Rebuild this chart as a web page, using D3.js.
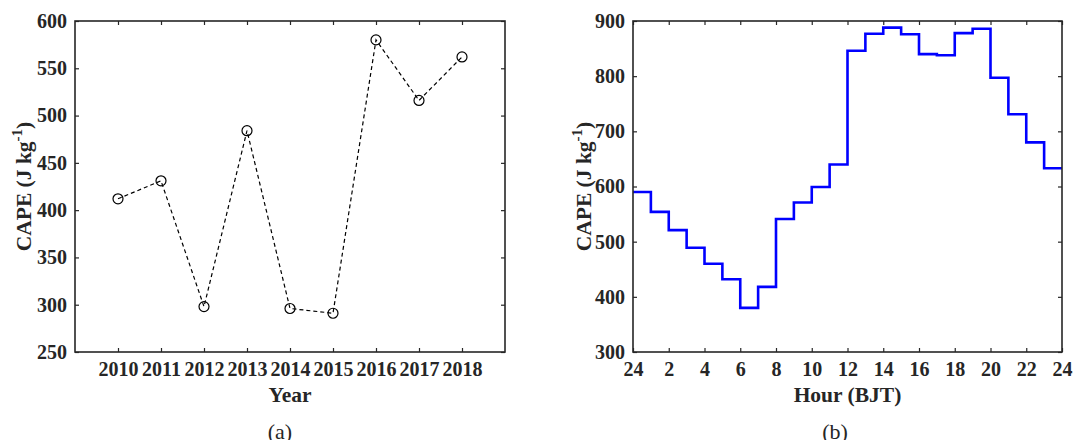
<!DOCTYPE html>
<html>
<head>
<meta charset="utf-8">
<script src="https://cdn.jsdelivr.net/npm/d3@7"></script>
<style>
  body { margin: 0; background: #fff; }
  text { font-family: "Liberation Serif", "Times New Roman", serif; fill: #262626; }
</style>
</head>
<body>
<div id="chart"></div>
<script>
// panel (a): yearly mean CAPE
var years = [2010, 2011, 2012, 2013, 2014, 2015, 2016, 2017, 2018];
var yearCape = [412, 431, 298, 484, 296, 291, 580, 516, 562];
var yearTicks = years;
var capeTicksA = [250, 300, 350, 400, 450, 500, 550, 600];

// panel (b): diurnal CAPE by hour (stairs)
var hours = [0, 1, 2, 3, 4, 5, 6, 7, 8, 9, 10, 11, 12, 13, 14, 15, 16, 17, 18, 19, 20, 21, 22, 23];
var hourCape = [590, 554, 521, 489, 460, 432, 380, 418, 541, 571, 599, 640,
  846, 877, 888, 876, 840, 838, 878, 886, 797, 731, 680, 633];
var hourTicks = [0, 2, 4, 6, 8, 10, 12, 14, 16, 18, 20, 22, 24];
var hourTickLabels = ["24", "2", "4", "6", "8", "10", "12", "14", "16", "18", "20", "22", "24"];
var capeTicksB = [300, 400, 500, 600, 700, 800, 900];

var svgWidth = 1073;
var svgHeight = 440;
var plotTop = 21, plotBottom = 352;
var tickLen = 4;
var ink = "#262626";

var svg = d3.select("#chart")
  .append("svg")
  .attr("width", svgWidth)
  .attr("height", svgHeight);

// draws a MATLAB-like box axis with inward ticks on all four sides
function drawFrame(x, y, xTicks, xLabels, yTicks) {
  var x0 = x.range()[0], x1 = x.range()[1];
  var g = svg.append("g");

  var bottomAxis = d3.axisBottom(x).tickValues(xTicks).tickSizeInner(-tickLen).tickSizeOuter(0)
    .tickPadding(10).tickFormat((d, i) => xLabels[i]);
  var topAxis = d3.axisTop(x).tickValues(xTicks).tickSizeInner(-tickLen).tickSizeOuter(0).tickFormat("");
  var leftAxis = d3.axisLeft(y).tickValues(yTicks).tickSizeInner(-tickLen).tickSizeOuter(0).tickPadding(8);
  var rightAxis = d3.axisRight(y).tickValues(yTicks).tickSizeInner(-tickLen).tickSizeOuter(0).tickFormat("");

  [[bottomAxis, `translate(0,${plotBottom})`], [topAxis, `translate(0,${plotTop})`],
   [leftAxis, `translate(${x0},0)`], [rightAxis, `translate(${x1},0)`]].forEach(function(a) {
    var ax = g.append("g").attr("transform", a[1]).call(a[0]);
    ax.select(".domain").remove();
    ax.selectAll("line").attr("stroke", ink).attr("stroke-width", 1.2);
    ax.selectAll("text")
      .attr("font-weight", "bold")
      .attr("font-size", 20)
      .attr("fill", ink);
  });

  g.append("rect")
    .attr("x", x0).attr("y", plotTop)
    .attr("width", x1 - x0).attr("height", plotBottom - plotTop)
    .attr("fill", "none").attr("stroke", ink).attr("stroke-width", 1.6);
  return g;
}

function yLabel(xPos) {
  var t = svg.append("text")
    .attr("transform", `translate(${xPos},${(plotTop + plotBottom) / 2}) rotate(-90)`)
    .attr("text-anchor", "middle")
    .attr("font-weight", "bold")
    .attr("font-size", 21.5);
  t.append("tspan").text("CAPE (J kg");
  t.append("tspan").attr("font-size", 15).attr("dy", -9).text("-1");
  t.append("tspan").attr("dy", 9).text(")");
}

// ---- panel (a)
var xA = d3.scaleLinear().domain([2009, 2019]).range([75, 505]);
var yA = d3.scaleLinear().domain([250, 600]).range([plotBottom, plotTop]);

var lineA = d3.line().x(d => xA(d[0])).y(d => yA(d[1]));
var ptsA = years.map((yr, i) => [yr, yearCape[i]]);

svg.append("path")
  .datum(ptsA)
  .attr("d", lineA)
  .attr("fill", "none")
  .attr("stroke", "#000")
  .attr("stroke-width", 1.2)
  .attr("stroke-dasharray", "4,3");

svg.selectAll(".yearDot")
  .data(ptsA)
  .enter()
  .append("circle")
  .attr("cx", d => xA(d[0]))
  .attr("cy", d => yA(d[1]))
  .attr("r", 5)
  .attr("fill", "none")
  .attr("stroke", "#000")
  .attr("stroke-width", 1.2);

drawFrame(xA, yA, yearTicks, yearTicks.map(String), capeTicksA);
yLabel(31);

svg.append("text")
  .attr("x", (75 + 505) / 2).attr("y", 402)
  .attr("text-anchor", "middle").attr("font-weight", "bold").attr("font-size", 21.5)
  .text("Year");

svg.append("text")
  .attr("x", 280).attr("y", 439)
  .attr("text-anchor", "middle").attr("font-size", 22)
  .attr("fill", "#000")
  .text("(a)");

// ---- panel (b)
var xB = d3.scaleLinear().domain([0, 24]).range([633, 1062]);
var yB = d3.scaleLinear().domain([300, 900]).range([plotBottom, plotTop]);

var ptsB = hours.map((h, i) => [h, hourCape[i]]);
ptsB.push([24, hourCape[hourCape.length - 1]]);

var lineB = d3.line().x(d => xB(d[0])).y(d => yB(d[1])).curve(d3.curveStepAfter);

svg.append("path")
  .datum(ptsB)
  .attr("d", lineB)
  .attr("fill", "none")
  .attr("stroke", "#0000ff")
  .attr("stroke-width", 2.6);

drawFrame(xB, yB, hourTicks, hourTickLabels, capeTicksB);
yLabel(591);

svg.append("text")
  .attr("x", (633 + 1062) / 2).attr("y", 402)
  .attr("text-anchor", "middle").attr("font-weight", "bold").attr("font-size", 21.5)
  .text("Hour (BJT)");

svg.append("text")
  .attr("x", 835).attr("y", 439)
  .attr("text-anchor", "middle").attr("font-size", 22)
  .attr("fill", "#000")
  .text("(b)");
</script>
</body>
</html>
